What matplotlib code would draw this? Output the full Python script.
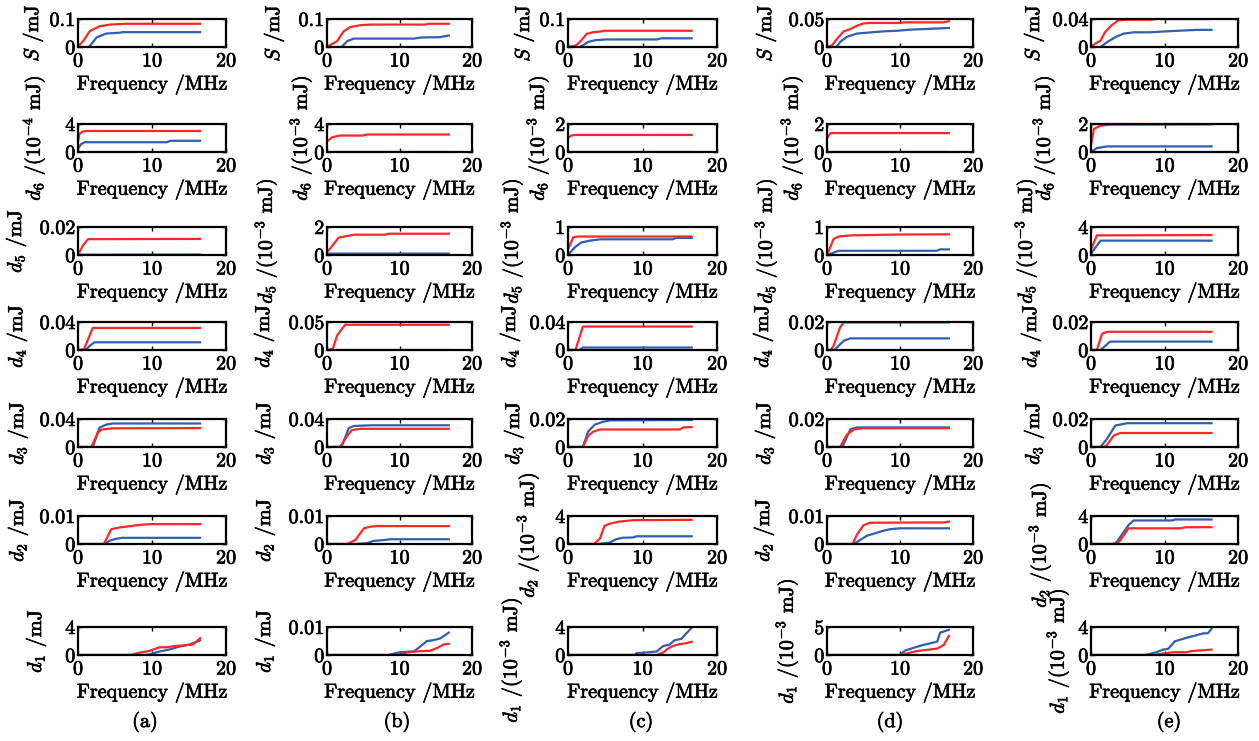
import matplotlib.pyplot as plt
import matplotlib.patheffects as pe
from matplotlib.text import Text

# (frequency MHz, value) break points, columns (a)..(e)
S_red = [
    ([0, 0.8, 1.6, 2.9, 4.3, 6.5, 16.5], [0, 0.025, 0.057, 0.074, 0.080, 0.083, 0.083]),
    ([0, 1.4, 2.3, 3.2, 4.6, 6, 13.5, 14, 16.8], [0, 0.021, 0.056, 0.071, 0.078, 0.080, 0.080, 0.083, 0.083]),
    ([0, 1.1, 1.8, 2.5, 3.4, 4.3, 4.9, 16.6], [0, 0.006, 0.024, 0.047, 0.053, 0.055, 0.058, 0.058]),
    ([0, 0.7, 1.4, 2.3, 3.2, 4.1, 5.0, 5.9, 10, 10.5, 16, 16.7],
     [0, 0.003, 0.015, 0.028, 0.032, 0.038, 0.042, 0.043, 0.043, 0.044, 0.044, 0.046]),
    ([0, 0.6, 1.3, 1.9, 2.8, 3.7, 4.9, 8, 8.9, 16.4], [0, 0.005, 0.009, 0.021, 0.031, 0.038, 0.039, 0.039, 0.040, 0.040]),
]
S_blue = [
    ([0, 1.5, 2.5, 3.8, 5.6, 6.0, 16.5], [0, 0, 0.034, 0.048, 0.051, 0.053, 0.053]),
    ([0, 2.0, 2.8, 3.7, 12, 13, 15.5, 16.8], [0, 0, 0.021, 0.030, 0.030, 0.034, 0.035, 0.041]),
    ([0, 1.5, 2.0, 2.7, 3.6, 5.1, 12, 12.5, 16.6], [0, 0, 0.006, 0.018, 0.024, 0.027, 0.027, 0.031, 0.031]),
    ([0, 1.3, 1.8, 2.7, 4.1, 5.9, 7.8, 9.6, 11.4, 13.2, 15.1, 16.7],
     [0, 0, 0.009, 0.018, 0.024, 0.026, 0.028, 0.029, 0.031, 0.032, 0.033, 0.034]),
    ([0, 1.3, 2.2, 3.3, 4.4, 5.8, 8, 10.7, 14.4, 16.4], [0, 0, 0.007, 0.014, 0.019, 0.021, 0.021, 0.0226, 0.0245, 0.0245]),
]

d6_red = [
    ([0, 0.2, 0.6, 1.1, 16.5], [1.5, 2.6, 2.9, 3.0, 3.0]),
    ([0, 0.7, 1.8, 5, 5.5, 16.8], [1.5, 2.1, 2.35, 2.35, 2.5, 2.5]),
    ([0, 0.45, 1.1, 16.6], [1.0, 1.18, 1.22, 1.22]),
    ([0, 0.5, 16.7], [1.0, 1.35, 1.35]),
    ([0, 0.4, 1.3, 2.6, 16.4], [0.5, 1.65, 1.88, 1.95, 1.97]),
]
d6_blue = [
    ([0, 0.4, 0.9, 12, 12.5, 16.5], [0.5, 1.1, 1.4, 1.4, 1.6, 1.6]),
    ([0, 16.8], [0.05, 0.05]),
    ([0, 16.6], [0.02, 0.02]),
    ([0, 16.7], [0.02, 0.02]),
    ([0, 0.8, 2.2, 16.4], [0, 0.28, 0.4, 0.4]),
]

d5_red = [
    ([0, 0.7, 1.35, 16.5], [0, 0.007, 0.0113, 0.0115]),
    ([0, 0.5, 1.6, 2.3, 3.7, 8, 8.5, 16.8], [0.2, 0.5, 1.24, 1.31, 1.45, 1.45, 1.52, 1.52]),
    ([0, 0.7, 1.3, 16.6], [0.2, 0.63, 0.66, 0.66]),
    ([0, 0.9, 1.6, 3.2, 9.6, 16.7], [0, 0.57, 0.66, 0.70, 0.73, 0.74]),
    ([0, 0.8, 16.4], [0.8, 2.8, 2.85]),
]
d5_blue = [
    ([0, 16.5], [0.0002, 0.0003]),
    ([0, 0.5, 16.8], [0.05, 0.1, 0.1]),
    ([0, 0.9, 1.8, 2.9, 4.3, 14, 14.5, 16.6], [0, 0.27, 0.45, 0.51, 0.56, 0.56, 0.61, 0.61]),
    ([0, 1.6, 15, 15.5, 16.7], [0, 0.15, 0.15, 0.2, 0.2]),
    ([0, 1.3, 16.4], [0.2, 2.05, 2.05]),
]

d4_red = [
    ([0, 0.8, 2.0, 16.5], [0, 0.001, 0.0315, 0.0315]),
    ([0, 0.8, 1.4, 2.5, 16.8], [0, 0.002, 0.026, 0.045, 0.045]),
    ([0, 1.0, 2.0, 16.6], [0, 0, 0.0335, 0.0335]),
    ([0, 0.5, 0.9, 1.8, 2.3, 16.7], [0, 0, 0.003, 0.0163, 0.0197, 0.0197]),
    ([0, 0.8, 1.5, 2.2, 16.4], [0, 0, 0.0115, 0.013, 0.013]),
]
d4_blue = [
    ([0, 1.0, 1.6, 2.2, 16.5], [0, 0, 0.006, 0.011, 0.011]),
    ([0, 16.8], [0.0003, 0.0003]),
    ([0, 1.5, 2.0, 16.6], [0, 0, 0.0035, 0.0035]),
    ([0, 1.0, 2.3, 3.2, 16.7], [0, 0, 0.0066, 0.0083, 0.0083]),
    ([0, 1.3, 2.6, 16.4], [0, 0, 0.006, 0.006]),
]

d3_red = [
    ([0, 1.8, 2.7, 3.2, 4.7, 16.5], [0, 0, 0.0207, 0.025, 0.0267, 0.027]),
    ([0, 1.8, 2.8, 3.4, 4.6, 16.8], [0, 0, 0.016, 0.024, 0.026, 0.026]),
    ([0, 2.0, 2.7, 3.4, 4.3, 15, 15.5, 16.6], [0, 0, 0.008, 0.011, 0.0125, 0.0125, 0.014, 0.0142]),
    ([0, 1.8, 2.7, 3.7, 5.0, 16.7], [0, 0, 0.0087, 0.0126, 0.0134, 0.0134]),
    ([0, 1.8, 2.2, 3.1, 4.0, 16.4], [0, 0, 0.0016, 0.0082, 0.010, 0.010]),
]
d3_blue = [
    ([0, 2.0, 2.9, 3.8, 4.7, 16.5], [0, 0, 0.0276, 0.032, 0.0336, 0.0336]),
    ([0, 2.0, 3.0, 3.7, 6, 16.8], [0, 0, 0.027, 0.030, 0.031, 0.031]),
    ([0, 2.0, 2.7, 3.6, 4.7, 5.6, 16.6], [0, 0, 0.011, 0.016, 0.018, 0.019, 0.0193]),
    ([0, 2.1, 3.2, 4.1, 16.7], [0, 0, 0.0126, 0.014, 0.014]),
    ([0, 1.3, 2.2, 3.3, 4.9, 16.4], [0, 0, 0.006, 0.0153, 0.017, 0.017]),
]

d2_red = [
    ([0, 3.5, 4.5, 5.6, 6.5, 8.3, 9.7, 16.5], [0, 0, 0.0053, 0.0059, 0.0062, 0.0068, 0.0071, 0.0071]),
    ([0, 2.8, 3.9, 5.1, 6.0, 6.9, 16.8], [0, 0, 0.0014, 0.0056, 0.0062, 0.0064, 0.0064]),
    ([0, 3.5, 4.3, 4.9, 5.6, 6.9, 8.7, 16.6], [0, 0, 0.8, 2.6, 2.9, 3.2, 3.4, 3.45]),
    ([0, 3.5, 4.1, 5.0, 5.9, 16, 16.7], [0, 0, 0.0033, 0.0067, 0.0076, 0.0077, 0.008]),
    ([0, 3.5, 4.0, 5.1, 12, 13, 16.4], [0, 0, 0.53, 2.24, 2.24, 2.4, 2.4]),
]
d2_blue = [
    ([0, 3.6, 4.3, 5.2, 6.0, 16.5], [0, 0, 0.0012, 0.0019, 0.0022, 0.0022]),
    ([0, 4.0, 5.5, 6.4, 7.8, 8.7, 16.8], [0, 0, 0.0003, 0.0011, 0.0014, 0.0017, 0.0017]),
    ([0, 4.0, 5.6, 6.5, 7.4, 8.7, 9.2, 16.6], [0, 0, 0.2, 0.7, 0.9, 0.93, 1.1, 1.1]),
    ([0, 3.6, 4.1, 5.5, 6.8, 7.8, 8.7, 10, 16.7], [0, 0, 0.0007, 0.003, 0.004, 0.0048, 0.0053, 0.0056, 0.0056]),
    ([0, 3.0, 3.5, 5.1, 5.8, 11, 11.5, 16.4], [0, 0, 0.27, 2.7, 3.36, 3.36, 3.5, 3.5]),
]

d1_red = [
    ([0, 7, 8.3, 9.7, 11, 11.9, 13.3, 14.6, 15.5, 16, 16.5], [0, 0, 0.33, 0.6, 1.1, 1.1, 1.3, 1.4, 1.5, 1.9, 2.4]),
    ([0, 10.1, 11, 12.4, 14.2, 15.2, 16.1, 16.8], [0, 0, 0.0009, 0.0013, 0.0015, 0.0025, 0.0038, 0.004]),
    ([0, 11.9, 12.8, 13.4, 14.1, 14.8, 15.9, 16.6], [0, 0, 0.36, 0.9, 1.3, 1.5, 1.7, 1.9]),
    ([0, 10, 11, 12.3, 14.2, 15.1, 16, 16.7], [0, 0, 0.3, 0.7, 1.0, 1.15, 1.8, 3.4]),
    ([0, 8.5, 9.4, 11.2, 13, 13.7, 16.4], [0, 0, 0.15, 0.4, 0.4, 0.56, 0.77]),
]
d1_blue = [
    ([0, 9, 9.7, 11, 12.4, 13.7, 15.1, 16.5], [0, 0, 0.1, 0.5, 0.8, 1.2, 1.5, 2.1]),
    ([0, 8.5, 8.7, 10.1, 12, 12.9, 13.8, 14.7, 15.6, 16.8],
     [0, 0, 0.0002, 0.001, 0.0013, 0.0031, 0.005, 0.0053, 0.0059, 0.008]),
    ([0, 9.0, 9.2, 10.5, 11.9, 12.8, 13.6, 14.3, 15.2, 15.9, 16.6], [0, 0, 0.26, 0.36, 0.5, 1.3, 1.45, 2.1, 2.3, 3.1, 3.9]),
    ([0, 10, 10.7, 11.9, 13.2, 14.2, 15.1, 15.5, 16.7], [0, 0, 0.8, 1.3, 1.8, 2.1, 2.4, 4.0, 4.5]),
    ([0, 7, 7.6, 8.9, 9.8, 10.5, 11.4, 13, 13.9, 15.3, 15.9, 16.4],
     [0, 0, 0.05, 0.4, 0.77, 0.87, 1.95, 2.46, 2.7, 3.1, 3.1, 3.74]),
]

# y axis top value per row, columns (a)..(e)
S_top = [0.1, 0.1, 0.1, 0.05, 0.04]
d6_top = [4, 4, 2, 2, 2]
d5_top = [0.02, 2, 1, 1, 4]
d4_top = [0.04, 0.05, 0.04, 0.02, 0.02]
d3_top = [0.04, 0.04, 0.02, 0.02, 0.02]
d2_top = [0.01, 0.01, 4, 0.01, 4]
d1_top = [4, 0.01, 4, 5, 4]

# unit exponent per panel (0 means plain mJ)
d6_exp = [-4, -3, -3, -3, -3]
d5_exp = [0, -3, -3, -3, -3]
d2_exp = [0, 0, -3, 0, -3]
d1_exp = [0, 0, -3, -3, -3]

panel_tags = ['(a)', '(b)', '(c)', '(d)', '(e)']

plt.rcParams['font.family'] = 'cmr10'
plt.rcParams['mathtext.fontset'] = 'cm'
plt.rcParams['axes.unicode_minus'] = False


def ylab(sym, e):
    if e == 0:
        return sym + ' /mJ'
    return sym + ' /(10$^{%d}$ mJ)' % e


rows = [
    (S_red, S_blue, S_top, [ylab('$S$', 0)] * 5),
    (d6_red, d6_blue, d6_top, [ylab('$d_6$', e) for e in d6_exp]),
    (d5_red, d5_blue, d5_top, [ylab('$d_5$', e) for e in d5_exp]),
    (d4_red, d4_blue, d4_top, [ylab('$d_4$', 0)] * 5),
    (d3_red, d3_blue, d3_top, [ylab('$d_3$', 0)] * 5),
    (d2_red, d2_blue, d2_top, [ylab('$d_2$', e) for e in d2_exp]),
    (d1_red, d1_blue, d1_top, [ylab('$d_1$', e) for e in d1_exp]),
]

# layout in pixels
W, H = 1259, 741
col_left = [78, 327, 568, 827, 1091]
col_width = [148, 145, 149, 146, 147]
row_top = [19, 124, 227, 322, 419, 516, 627]
row_h = 28
tag_x = [145, 397, 641, 890, 1169]
label_x = [
    [33, 274, 524, 766, 1034],
    [34, 301, 538, 792, 1044],
    [16, 266, 512, 766, 1026],
    [17, 264, 510, 763, 1031],
    [18, 265, 514, 765, 1034],
    [18, 265, 528, 764, 1040],
    [36, 265, 511, 787, 1058],
]
label_dy = {(5, 2): 5, (6, 2): 19, (5, 4): 15, (6, 4): 10}
FS = 14.5

fig = plt.figure(figsize=(W / 100, H / 100), dpi=100)

for r, (red, blue, tops, labels) in enumerate(rows):
    for c in range(5):
        ax = fig.add_axes([col_left[c] / W, 1 - (row_top[r] + row_h) / H,
                           col_width[c] / W, row_h / H])
        ax.plot(*blue[c], color='#2f5fb0', lw=1.6)
        ax.plot(*red[c], color='#ff2626', lw=1.6)
        ax.set_xlim(0, 20)
        ax.set_ylim(0, tops[c])
        ax.set_xticks([0, 10, 20])
        ax.set_yticks([0, tops[c]])
        ax.set_yticklabels(['0', '%g' % tops[c]])
        ax.tick_params(direction='in', top=True, right=True, length=3,
                       width=1, labelsize=FS)
        ax.tick_params(axis='x', pad=4)
        ax.tick_params(axis='y', pad=2)
        for s in ax.spines.values():
            s.set_linewidth(1.6)
        ax.set_xlabel('Frequency /MHz', fontsize=FS, labelpad=3)
        yc = row_top[r] + row_h / 2 + label_dy.get((r, c), 0)
        fig.text(label_x[r][c] / W, 1 - yc / H, labels[c], fontsize=FS,
                 rotation=90, ha='center', va='center')

for c in range(5):
    fig.text(tag_x[c] / W, 1 - 722 / H, panel_tags[c], fontsize=FS,
             ha='center', va='center')

# the scanned original has heavier strokes
for t in fig.findobj(Text):
    t.set_path_effects([pe.withStroke(linewidth=0.5, foreground='black')])

fig.savefig('out.png', dpi=100)
